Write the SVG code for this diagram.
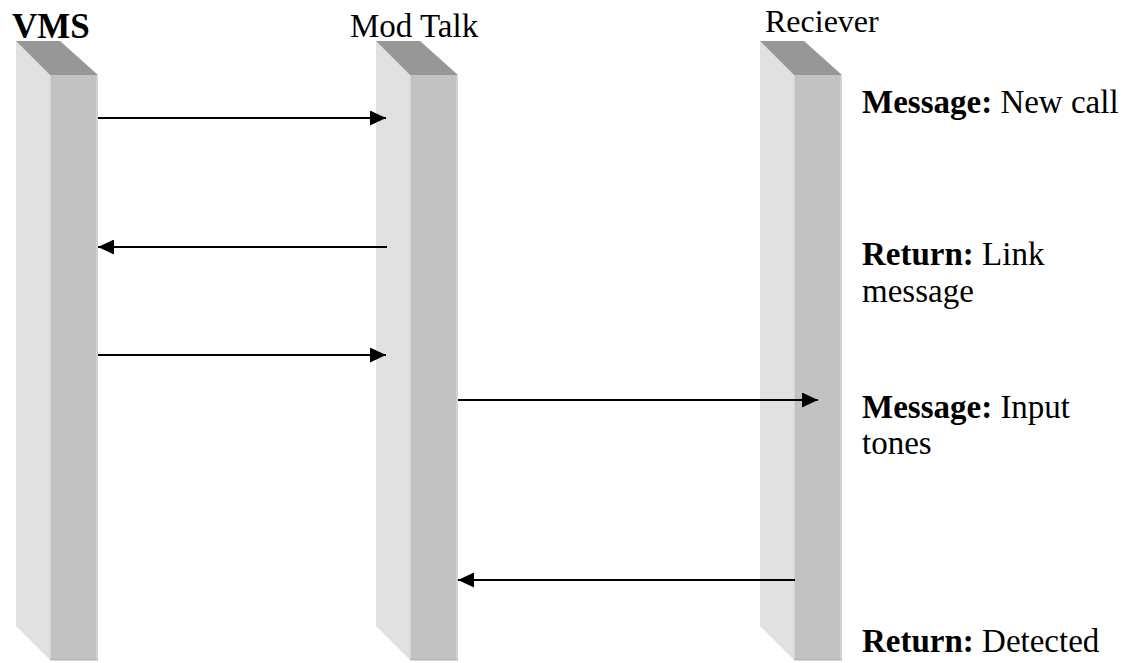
<svg xmlns="http://www.w3.org/2000/svg" width="1130" height="663" viewBox="0 0 1130 663">
  <defs>
    <style>
      .side { fill: #e1e1e1; }
      .top { fill: #979797; }
      .front { fill: #c2c2c2; }
      .edge { fill: #d2d2d2; }
      .lbl { font-family: "Liberation Serif", "Times New Roman", serif; font-size: 33px; fill: #000; }
      .b { font-weight: bold; }
      .msg { stroke: #000; stroke-width: 2; fill: none; marker-end: url(#head); }
    </style>
    <marker id="head" viewBox="0 0 16 15" refX="16" refY="7.5" markerWidth="16" markerHeight="15" markerUnits="userSpaceOnUse" orient="auto">
      <path d="M0,0 L16,7.5 L0,15 Z" fill="#000"/>
    </marker>
    <!-- one lifeline column: side, top bevel, front face -->
    <g id="pillar">
      <polygon class="side" points="0,41 34,75 34,660 0,626"/>
      <polygon class="top" points="0,41 44,41 82,75 34,75"/>
      <rect class="front" x="34" y="75" width="48" height="585"/>
      <rect class="edge" x="34" y="75" width="1" height="585"/>
      <rect class="edge" x="80" y="75" width="2" height="585"/>
      <rect fill="#b4b4b4" x="34" y="659" width="48" height="1.5"/>
    </g>
  </defs>
  <rect width="1130" height="663" fill="#fff"/>

  <g id="vms">
    <use href="#pillar" x="16"/>
    <text class="lbl b" x="12" y="38" style="font-size:35px">VMS</text>
  </g>
  <g id="modtalk">
    <use href="#pillar" x="376"/>
    <text class="lbl" x="350" y="37">Mod Talk</text>
  </g>
  <g id="receiver">
    <use href="#pillar" x="760"/>
    <text class="lbl" x="765" y="32" style="font-size:32px">Reciever</text>
  </g>

  <g id="notes" class="lbl">
    <text x="862" y="113"><tspan class="b">Message:</tspan> New call</text>
    <text x="862" y="265"><tspan class="b">Return:</tspan> Link</text>
    <text x="862" y="302">message</text>
    <text x="862" y="418"><tspan class="b">Message:</tspan> Input</text>
    <text x="862" y="454">tones</text>
    <text x="862" y="652"><tspan class="b">Return:</tspan> Detected</text>
  </g>

  <g id="connectors">
    <line class="msg" x1="98" y1="118" x2="386" y2="118"/>
    <line class="msg" x1="387" y1="247" x2="98" y2="247"/>
    <line class="msg" x1="98" y1="355" x2="386" y2="355"/>
    <line class="msg" x1="458" y1="400" x2="818" y2="400"/>
    <line class="msg" x1="795" y1="580" x2="458" y2="580"/>
  </g>
</svg>
